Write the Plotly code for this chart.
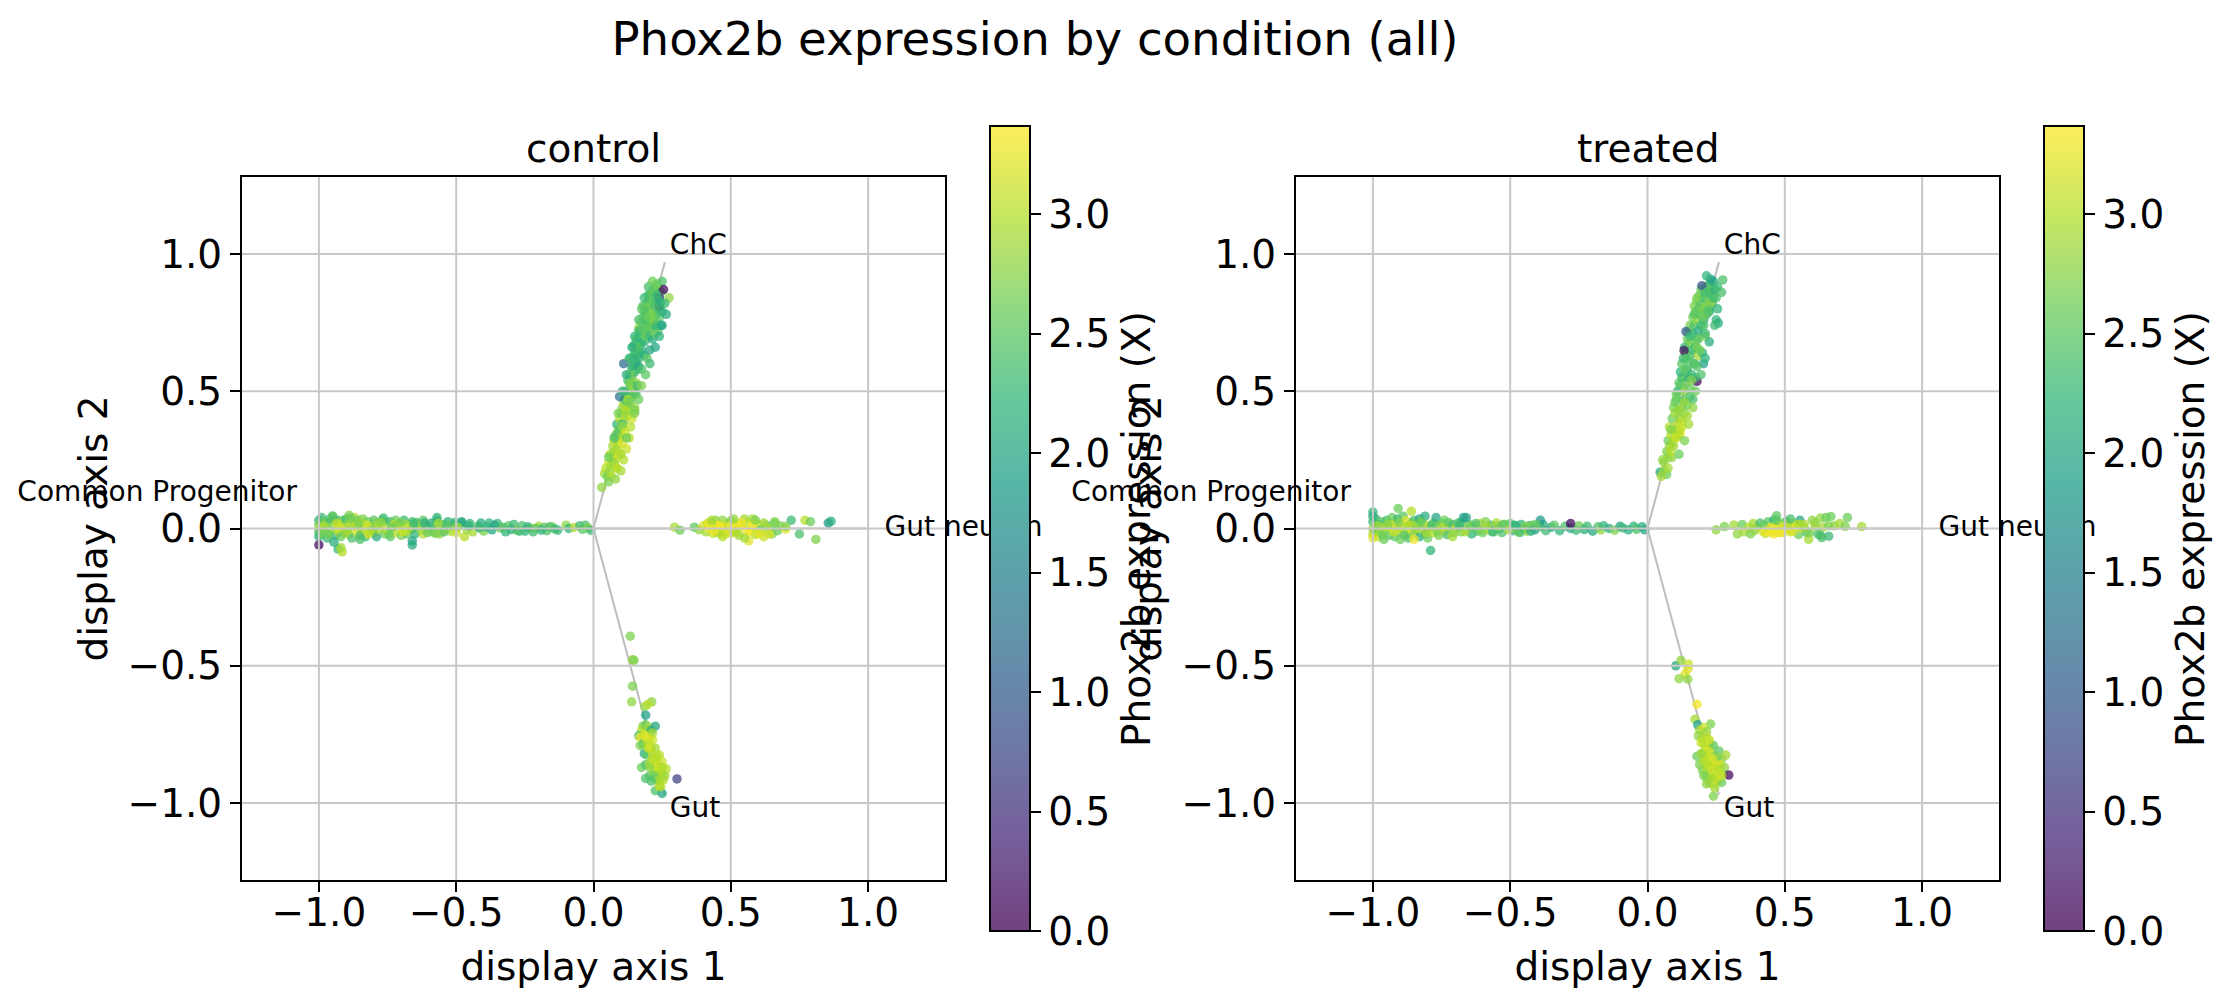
import plotly.graph_objects as go

FIG_W, FIG_H = 2235, 1007

TICKS = [-1.0, -0.5, 0.0, 0.5, 1.0]
CBAR_TICKS = [0.0, 0.5, 1.0, 1.5, 2.0, 2.5, 3.0]
VMAX = 3.37
AXIS_LIMIT = 1.28
PANEL_NAMES = ["control", "treated"]

# trajectory skeleton, drawn from the centre out to each branch tip
BRANCH_X = [0.0, 0.26, None, 0.0, 0.26, None, 0.0, -1.0, None, 0.0, 1.0]
BRANCH_Y = [0.0, 0.97, None, 0.0, -0.97, None, 0.0, 0.0, None, 0.0, 0.0]

LABELS = ["ChC", "Gut", "Gut neuron"]
LABEL_X = [0.278, 0.278, 1.06]
LABEL_Y = [1.025, -1.025, 0.0]
ROOT_LABEL = ["Common Progenitor"]
ROOT_X = [-1.08]
ROOT_Y = [0.127]

# control: Common Progenitor branch
c_prog_x = [
    -1.00, -1.00, -1.00, -1.00, -1.00, -0.99, -0.99, -0.98, -0.98, -0.97,
    -0.97, -0.96, -0.96, -0.95, -0.95, -0.94, -0.94, -0.93, -0.93, -0.92,
    -0.92, -0.91, -0.91, -0.90, -0.90, -0.89, -0.89, -0.88, -0.88, -0.87,
    -0.87, -0.86, -0.86, -0.85, -0.85, -0.84, -0.84, -0.83, -0.83, -0.82,
    -0.82, -0.81, -0.80, -0.80, -0.79, -0.79, -0.78, -0.77, -0.77, -0.76,
    -0.76, -0.75, -0.74, -0.74, -0.73, -0.72, -0.72, -0.71, -0.70, -0.70,
    -0.69, -0.68, -0.68, -0.67, -0.66, -0.66, -0.65, -0.64, -0.63, -0.62,
    -0.62, -0.61, -0.60, -0.59, -0.58, -0.57, -0.57, -0.56, -0.55, -0.54,
    -0.53, -0.52, -0.51, -0.50, -0.49, -0.48, -0.46, -0.45, -0.44, -0.42,
    -0.41, -0.40, -0.38, -0.37, -0.35, -0.34, -0.32, -0.31, -0.29, -0.28,
    -0.26, -0.25, -0.23, -0.22, -0.20, -0.18, -0.17, -0.15, -0.13, -0.10,
    -0.09, -0.07, -0.05, -0.04, -0.03, -0.02, -0.01, -1.00, -0.93, -0.915,
    -0.92, -0.945, -0.66, -0.66, -0.85, -0.89, -0.95, -0.48, -0.57, -0.47,
    -0.985, -0.965, -0.945, -0.925, -0.905, -0.885, -0.865, -0.845, -0.825, -0.805,
    -0.785, -0.765, -0.745, -0.725, -0.705, -0.685, -0.665, -0.645, -0.625, -0.605,
    -0.585, -0.565, -0.545, -0.525, -0.505, -0.975, -0.935, -0.895, -0.855, -0.815,
    -0.775, -0.735, -0.695, -0.655, -0.615, -0.575, -0.535, -0.495, -0.455, -0.415,
    -0.39, -0.36, -0.33, -0.30, -0.27, -0.24, -0.21, -0.19, -0.16, -0.14,
]
c_prog_y = [
    0.030, 0.015, 0.000, -0.015, -0.030, 0.040, -0.020, 0.025, 0.005, -0.035,
    0.020, 0.035, -0.010, 0.045, 0.010, -0.025, 0.025, 0.030, -0.010, -0.030,
    0.015, 0.030, -0.015, 0.005, 0.035, 0.020, -0.020, 0.020, -0.035, 0.010,
    0.040, -0.015, 0.030, 0.000, -0.025, 0.035, 0.015, -0.030, -0.005, 0.025,
    -0.020, 0.005, 0.030, -0.015, 0.020, -0.030, -0.005, 0.030, 0.010, -0.020,
    0.025, -0.010, 0.025, -0.030, 0.005, 0.030, -0.015, 0.015, -0.025, 0.005,
    0.030, 0.015, -0.020, -0.005, 0.025, 0.000, -0.020, 0.015, -0.005, 0.030,
    -0.020, 0.010, -0.010, 0.020, -0.015, 0.030, 0.005, -0.020, 0.015, -0.005,
    0.025, -0.010, 0.015, -0.015, 0.010, 0.020, -0.005, 0.018, -0.012, 0.008,
    0.020, -0.010, 0.020, -0.005, 0.018, 0.002, -0.012, 0.010, 0.015, -0.006,
    0.010, -0.010, 0.002, -0.012, 0.008, 0.005, -0.008, 0.006, -0.006, 0.012,
    0.000, 0.004, 0.010, -0.003, 0.012, 0.002, -0.006, -0.060, -0.075, -0.085,
    -0.070, -0.050, -0.060, -0.045, -0.040, 0.048, 0.045, 0.025, 0.040, -0.030,
    0.008, -0.022, 0.032, 0.002, -0.018, 0.038, 0.010, 0.022, 0.012, -0.005,
    0.012, 0.038, -0.020, 0.015, 0.022, -0.010, 0.010, 0.022, 0.012, -0.015,
    0.008, 0.018, -0.012, 0.006, 0.022, -0.012, 0.018, -0.008, 0.015, -0.012,
    0.022, 0.004, -0.012, 0.018, 0.020, -0.018, 0.012, 0.005, 0.010, 0.002,
    0.006, 0.012, 0.005, -0.004, -0.010, 0.006, 0.000, -0.006, 0.006, -0.002,
]
c_prog_v = [
    2.2, 2.6, 2.9, 2.4, 2.1, 2.3, 2.7, 2.5, 3.0, 2.3,
    2.8, 2.3, 3.0, 2.5, 2.7, 2.2, 2.9, 2.4, 3.1, 2.6,
    3.2, 2.7, 2.5, 3.0, 2.3, 2.8, 2.9, 3.1, 2.4, 2.8,
    3.0, 3.2, 2.6, 3.1, 2.4, 2.7, 3.0, 2.3, 2.9, 2.6,
    3.2, 2.8, 2.5, 3.0, 2.7, 2.1, 2.9, 2.4, 3.2, 2.6,
    2.8, 3.1, 2.3, 2.5, 2.9, 2.6, 3.0, 2.4, 2.7, 3.2,
    2.3, 2.9, 2.5, 3.1, 2.4, 2.8, 2.2, 3.2, 2.7, 2.5,
    3.0, 2.3, 2.9, 2.1, 2.6, 2.3, 3.0, 2.8, 2.4, 3.1,
    2.2, 2.9, 2.5, 3.1, 2.6, 2.0, 2.8, 2.3, 2.9, 2.4,
    2.1, 2.7, 2.2, 2.0, 2.3, 2.6, 2.2, 2.5, 2.3, 2.7,
    2.4, 2.2, 2.8, 2.3, 2.9, 2.5, 2.4, 2.7, 2.3, 2.8,
    2.2, 3.0, 2.3, 2.5, 2.4, 2.7, 2.3, 0.1, 2.2, 3.0,
    2.9, 2.1, 2.1, 2.0, 2.4, 2.7, 2.5, 2.0, 2.2, 3.0,
    2.9, 2.6, 2.4, 3.1, 2.8, 2.6, 3.0, 2.8, 3.2, 2.7,
    2.9, 2.3, 2.6, 3.0, 2.7, 2.9, 3.1, 2.4, 2.8, 2.6,
    2.3, 2.9, 2.5, 2.8, 2.2, 2.6, 3.1, 2.9, 2.7, 3.0,
    2.8, 2.6, 3.1, 2.3, 2.1, 2.7, 2.4, 2.9, 2.1, 2.3,
    2.2, 2.0, 2.4, 2.2, 2.3, 2.1, 2.5, 2.2, 2.4, 2.3,
]

# control: ChC branch
c_chc_x = [
    0.03, 0.04, 0.05, 0.045, 0.06, 0.055, 0.065, 0.07, 0.06, 0.075,
    0.08, 0.07, 0.085, 0.075, 0.09, 0.08, 0.095, 0.09, 0.085, 0.10,
    0.105, 0.095, 0.11, 0.10, 0.115, 0.09, 0.105, 0.12, 0.11, 0.125,
    0.105, 0.13, 0.115, 0.125, 0.14, 0.12, 0.135, 0.145, 0.115, 0.13,
    0.15, 0.125, 0.14, 0.155, 0.115, 0.135, 0.15, 0.13, 0.145, 0.16,
    0.125, 0.14, 0.155, 0.135, 0.15, 0.165, 0.145, 0.16, 0.175, 0.14,
    0.155, 0.17, 0.185, 0.15, 0.165, 0.18, 0.16, 0.175, 0.19, 0.205,
    0.165, 0.18, 0.195, 0.21, 0.17, 0.185, 0.20, 0.215, 0.225, 0.175,
    0.19, 0.205, 0.22, 0.185, 0.20, 0.215, 0.23, 0.19, 0.205, 0.22,
    0.195, 0.21, 0.225, 0.24, 0.20, 0.215, 0.235, 0.19, 0.225, 0.245,
    0.21, 0.235, 0.20, 0.25, 0.225, 0.215, 0.24, 0.275, 0.255, 0.11,
    0.095, 0.23, 0.24,
    0.145, 0.155, 0.165, 0.175, 0.15, 0.16, 0.17, 0.185, 0.195, 0.205,
    0.165, 0.18, 0.19, 0.205, 0.215, 0.225, 0.235, 0.245, 0.19, 0.20,
    0.21, 0.22, 0.23, 0.24, 0.25, 0.18, 0.195, 0.21, 0.225, 0.24,
    0.205, 0.215, 0.23, 0.245, 0.135, 0.145, 0.155, 0.125, 0.135, 0.15,
    0.16, 0.115, 0.125, 0.14, 0.15, 0.105, 0.115, 0.13, 0.095, 0.105,
    0.12, 0.085, 0.095, 0.11, 0.075, 0.085, 0.10, 0.065, 0.08, 0.055,
    0.13, 0.14, 0.15, 0.165, 0.175, 0.185, 0.20, 0.215, 0.26, 0.265,
    0.25, 0.24, 0.225, 0.205, 0.19, 0.175, 0.165, 0.15, 0.135, 0.12,
    0.10, 0.085, 0.055, 0.075, 0.09, 0.105, 0.12,
]
c_chc_y = [
    0.15, 0.20, 0.19, 0.22, 0.21, 0.24, 0.23, 0.26, 0.27, 0.28,
    0.25, 0.30, 0.29, 0.32, 0.31, 0.34, 0.33, 0.36, 0.38, 0.35,
    0.37, 0.40, 0.39, 0.42, 0.41, 0.35, 0.44, 0.43, 0.46, 0.45,
    0.38, 0.47, 0.43, 0.49, 0.48, 0.44, 0.50, 0.49, 0.47, 0.53,
    0.50, 0.49, 0.55, 0.53, 0.50, 0.52, 0.57, 0.56, 0.60, 0.58,
    0.54, 0.58, 0.61, 0.62, 0.64, 0.62, 0.66, 0.67, 0.65, 0.59,
    0.69, 0.70, 0.68, 0.63, 0.73, 0.71, 0.66, 0.75, 0.72, 0.74,
    0.69, 0.77, 0.76, 0.73, 0.72, 0.79, 0.78, 0.77, 0.75, 0.68,
    0.75, 0.80, 0.79, 0.71, 0.73, 0.82, 0.78, 0.80, 0.76, 0.84,
    0.82, 0.78, 0.74, 0.80, 0.85, 0.81, 0.83, 0.77, 0.87, 0.86,
    0.85, 0.88, 0.83, 0.90, 0.86, 0.76, 0.84, 0.84, 0.87, 0.60,
    0.48, 0.89, 0.81,
    0.62, 0.60, 0.59, 0.58, 0.67, 0.66, 0.64, 0.63, 0.62, 0.65,
    0.72, 0.73, 0.70, 0.70, 0.69, 0.71, 0.72, 0.74, 0.76, 0.77,
    0.75, 0.76, 0.74, 0.77, 0.79, 0.81, 0.82, 0.83, 0.81, 0.83,
    0.85, 0.87, 0.85, 0.82, 0.53, 0.51, 0.49, 0.47, 0.46, 0.44,
    0.52, 0.43, 0.41, 0.40, 0.42, 0.37, 0.35, 0.33, 0.33, 0.31,
    0.29, 0.28, 0.27, 0.25, 0.24, 0.22, 0.21, 0.19, 0.18, 0.17,
    0.62, 0.66, 0.70, 0.76, 0.80, 0.84, 0.88, 0.90, 0.82, 0.78,
    0.74, 0.70, 0.66, 0.60, 0.56, 0.52, 0.47, 0.43, 0.37, 0.33,
    0.27, 0.22, 0.26, 0.33, 0.42, 0.50, 0.56,
]
c_chc_v = [
    2.8, 2.9, 2.6, 3.0, 2.8, 3.1, 2.9, 3.0, 3.1, 2.8,
    3.2, 2.9, 3.0, 3.1, 2.9, 2.7, 3.0, 3.1, 2.2, 3.2,
    2.9, 3.0, 2.8, 2.5, 3.1, 2.3, 2.8, 3.0, 2.9, 2.6,
    2.4, 3.0, 2.7, 2.9, 2.5, 2.8, 2.9, 2.6, 2.3, 2.7,
    2.8, 2.4, 2.6, 2.8, 2.2, 2.5, 2.3, 2.6, 2.7, 2.2,
    2.4, 2.6, 2.1, 2.3, 2.5, 2.3, 2.6, 2.4, 2.2, 2.1,
    2.7, 2.5, 2.2, 2.3, 2.8, 2.4, 2.2, 2.6, 2.5, 2.3,
    2.4, 2.6, 2.8, 2.2, 2.1, 2.4, 2.6, 2.5, 2.3, 2.2,
    2.5, 2.4, 2.8, 2.3, 2.6, 2.5, 2.2, 2.4, 2.9, 2.3,
    2.5, 2.7, 2.2, 2.4, 2.3, 2.6, 2.1, 2.4, 2.5, 2.4,
    2.2, 2.6, 2.5, 2.4, 2.3, 2.7, 0.4, 2.8, 0.1, 1.2,
    1.3, 2.6, 0.3,
    2.1, 2.3, 2.0, 2.4, 2.2, 2.5, 2.3, 2.1, 2.5, 2.0,
    2.4, 2.5, 2.6, 2.3, 2.1, 2.6, 2.5, 2.0, 2.4, 2.6,
    2.5, 2.7, 2.3, 2.5, 2.2, 2.4, 2.6, 2.5, 2.4, 2.1,
    2.5, 2.6, 2.3, 2.2, 2.7, 2.8, 2.4, 2.9, 2.6, 2.8,
    2.3, 3.0, 2.8, 3.1, 2.7, 2.8, 3.1, 3.0, 2.9, 3.2,
    3.1, 2.9, 3.2, 3.0, 2.8, 3.1, 2.9, 3.0, 2.8, 2.7,
    2.3, 2.1, 2.2, 2.4, 2.5, 2.3, 2.4, 2.6, 2.3, 2.1,
    2.0, 2.2, 2.0, 2.3, 2.5, 2.7, 2.6, 2.7, 3.0, 2.6,
    2.9, 3.0, 2.6, 2.4, 2.7, 2.3, 2.1,
]

# control: Gut branch
c_gut_x = [
    0.134, 0.142, 0.148, 0.142, 0.139, 0.187, 0.212, 0.198, 0.19, 0.18,
    0.175, 0.19, 0.20, 0.21, 0.165, 0.17, 0.185, 0.225, 0.205, 0.18,
    0.19, 0.20, 0.215, 0.185, 0.21, 0.225, 0.24, 0.195, 0.215, 0.23,
    0.25, 0.175, 0.19, 0.205, 0.225, 0.245, 0.265, 0.205, 0.22, 0.235,
    0.25, 0.19, 0.225, 0.24, 0.255, 0.225, 0.24, 0.25, 0.304,
    0.20, 0.215, 0.23, 0.24, 0.25, 0.205, 0.22, 0.235, 0.215, 0.23,
    0.19, 0.245, 0.26, 0.21, 0.17,
]
c_gut_y = [
    -0.392, -0.478, -0.480, -0.574, -0.631, -0.648, -0.631, -0.640, -0.680, -0.72,
    -0.735, -0.715, -0.725, -0.735, -0.755, -0.76, -0.75, -0.72, -0.76, -0.785,
    -0.79, -0.78, -0.745, -0.82, -0.80, -0.80, -0.825, -0.825, -0.82, -0.84,
    -0.85, -0.87, -0.86, -0.855, -0.85, -0.87, -0.875, -0.90, -0.88, -0.88,
    -0.895, -0.91, -0.91, -0.92, -0.915, -0.955, -0.94, -0.965, -0.912,
    -0.80, -0.84, -0.86, -0.89, -0.87, -0.87, -0.90, -0.92, -0.77, -0.83,
    -0.76, -0.94, -0.90, -0.92, -0.79,
]
c_gut_v = [
    2.7, 2.8, 2.7, 2.7, 2.8, 2.8, 2.8, 3.0, 1.9, 2.7,
    3.0, 2.6, 2.9, 2.1, 2.3, 3.3, 3.1, 2.0, 3.2, 2.2,
    3.0, 3.0, 2.9, 2.1, 3.1, 2.9, 3.0, 2.5, 3.0, 2.9,
    3.1, 2.6, 2.4, 2.9, 3.0, 2.8, 3.0, 2.5, 2.9, 3.1,
    2.9, 2.4, 2.5, 2.9, 3.0, 2.4, 3.0, 2.0, 0.7,
    3.1, 3.0, 3.1, 3.0, 3.0, 2.8, 2.6, 2.9, 3.1, 3.0,
    3.2, 3.0, 2.9, 2.4, 2.7,
]

# control: Gut neuron branch
c_neu_x = [
    0.295, 0.315, 0.367, 0.385, 0.40, 0.41, 0.415, 0.42, 0.43, 0.435,
    0.44, 0.445, 0.45, 0.46, 0.465, 0.47, 0.475, 0.48, 0.49, 0.50,
    0.50, 0.51, 0.52, 0.525, 0.53, 0.54, 0.55, 0.56, 0.565, 0.57,
    0.58, 0.585, 0.59, 0.60, 0.61, 0.62, 0.63, 0.64, 0.65, 0.66,
    0.67, 0.68, 0.70, 0.72, 0.75, 0.77, 0.79, 0.81, 0.855, 0.865,
    0.45, 0.52, 0.61, 0.70,
    0.42, 0.44, 0.46, 0.48, 0.50, 0.52, 0.54, 0.56, 0.58, 0.60,
    0.47, 0.51, 0.55, 0.59, 0.43, 0.62, 0.64, 0.66,
]
c_neu_y = [
    0.005, -0.006, 0.005, -0.005, 0.010, -0.012, 0.018, 0.000, 0.022, -0.018,
    0.010, 0.030, -0.005, 0.015, -0.020, 0.030, 0.005, -0.012, 0.018, -0.018,
    0.028, 0.003, -0.012, 0.020, -0.025, 0.008, 0.035, 0.020, -0.045, -0.010,
    0.035, 0.005, -0.022, 0.015, -0.005, -0.030, 0.012, 0.000, -0.020, 0.018,
    -0.008, 0.010, -0.002, 0.030, -0.020, 0.030, 0.025, -0.040, 0.020, 0.026,
    -0.015, 0.012, -0.015, 0.008,
    0.020, -0.010, 0.010, -0.020, 0.010, -0.015, 0.020, -0.010, 0.015, -0.020,
    -0.030, 0.035, -0.035, 0.030, 0.030, 0.020, -0.020, 0.025,
]
c_neu_v = [
    2.9, 2.6, 2.5, 2.8, 3.2, 2.9, 3.0, 3.3, 2.7, 3.1,
    3.3, 2.8, 2.9, 3.3, 2.9, 2.8, 3.3, 3.0, 3.0, 3.1,
    2.7, 3.3, 2.9, 3.1, 2.9, 3.2, 2.9, 3.0, 3.2, 3.3,
    2.9, 3.3, 3.0, 3.1, 2.4, 3.1, 2.5, 2.9, 2.8, 2.6,
    2.6, 2.7, 3.2, 2.3, 2.4, 3.0, 2.6, 2.7, 1.8, 2.1,
    2.9, 3.3, 3.2, 2.7,
    3.3, 3.3, 3.3, 3.2, 3.3, 3.0, 3.3, 3.3, 3.3, 3.2,
    3.0, 2.8, 2.9, 2.7, 2.9, 2.9, 3.1, 2.7,
]

# treated: Common Progenitor branch
t_prog_x = [
    -1.00, -1.00, -1.00, -1.00, -1.00, -1.00, -0.99, -0.99, -0.98, -0.98,
    -0.97, -0.97, -0.96, -0.96, -0.95, -0.95, -0.94, -0.94, -0.93, -0.93,
    -0.92, -0.92, -0.91, -0.91, -0.90, -0.90, -0.89, -0.89, -0.88, -0.88,
    -0.87, -0.87, -0.86, -0.86, -0.85, -0.85, -0.84, -0.84, -0.83, -0.83,
    -0.82, -0.82, -0.81, -0.81, -0.80, -0.80, -0.79, -0.78, -0.78, -0.77,
    -0.76, -0.76, -0.75, -0.74, -0.74, -0.73, -0.72, -0.71, -0.71, -0.70,
    -0.69, -0.68, -0.68, -0.67, -0.66, -0.65, -0.64, -0.63, -0.62, -0.61,
    -0.60, -0.59, -0.58, -0.57, -0.56, -0.55, -0.54, -0.53, -0.52, -0.50,
    -0.49, -0.48, -0.47, -0.46, -0.45, -0.44, -0.43, -0.42, -0.41, -0.39,
    -0.38, -0.37, -0.35, -0.34, -0.32, -0.30, -0.28, -0.26, -0.25, -0.23,
    -0.22, -0.20, -0.18, -0.17, -0.16, -0.14, -0.12, -0.10, -0.09, -0.07,
    -0.05, -0.04, -0.02, -0.01, -0.908, -0.86, -0.79, -0.39, -0.66, -0.85,
    -0.985, -0.965, -0.945, -0.925, -0.905, -0.885, -0.865, -0.845, -0.825, -0.805,
    -0.785, -0.765, -0.745, -0.725, -0.705, -0.685, -0.665, -0.645, -0.625, -0.605,
    -0.585, -0.565, -0.545, -0.525, -0.505, -0.485, -0.465, -0.445, -0.425, -0.405,
]
t_prog_y = [
    0.060, 0.045, 0.025, 0.000, -0.020, -0.034, 0.035, -0.010, 0.015, -0.030,
    0.025, -0.015, 0.005, -0.040, 0.030, -0.005, 0.020, -0.025, 0.040, 0.005,
    -0.030, 0.018, 0.035, -0.012, 0.000, -0.040, 0.045, 0.012, -0.022, 0.028,
    0.008, -0.035, 0.020, -0.010, 0.030, -0.020, 0.002, 0.015, -0.030, 0.035,
    -0.005, 0.020, -0.020, 0.045, 0.010, -0.035, 0.005, 0.020, -0.015, 0.040,
    -0.025, 0.008, 0.018, -0.010, 0.030, -0.022, 0.005, 0.015, -0.030, 0.000,
    0.020, -0.012, 0.022, 0.040, -0.005, 0.015, -0.020, 0.010, -0.010, 0.018,
    -0.015, 0.025, -0.005, 0.012, -0.012, 0.020, 0.000, -0.015, 0.015, 0.018,
    -0.008, 0.010, -0.012, 0.015, 0.000, -0.010, 0.010, 0.012, -0.005, 0.006,
    0.014, -0.008, 0.005, 0.012, -0.008, 0.008, 0.000, -0.006, 0.010, -0.004,
    0.008, -0.010, 0.006, -0.005, 0.010, 0.000, -0.006, 0.008, 0.002, -0.005,
    0.008, -0.003, 0.006, -0.005, 0.073, 0.063, -0.080, 0.030, 0.040, -0.040,
    0.010, -0.025, 0.015, -0.012, 0.022, -0.025, 0.012, -0.002, 0.025, -0.015,
    0.012, -0.012, 0.005, 0.022, -0.015, 0.010, -0.012, 0.008, 0.018, -0.005,
    0.010, -0.012, 0.008, 0.015, -0.005, 0.012, -0.015, 0.008, -0.010, 0.015,
]
t_prog_v = [
    2.2, 2.1, 2.3, 2.8, 3.0, 3.2, 2.2, 2.6, 2.0, 3.1,
    2.5, 2.8, 2.9, 2.6, 2.4, 3.0, 2.7, 2.5, 2.6, 2.9,
    2.5, 3.1, 2.3, 2.8, 3.0, 2.6, 2.5, 3.1, 2.9, 3.2,
    2.8, 2.4, 2.9, 3.2, 2.4, 2.7, 3.1, 2.8, 2.1, 2.0,
    2.9, 2.6, 2.4, 2.1, 3.0, 2.6, 2.8, 2.5, 3.0, 2.0,
    2.7, 2.9, 2.5, 3.1, 2.6, 2.4, 2.8, 2.2, 2.9, 3.0,
    2.5, 2.7, 2.3, 1.9, 2.9, 2.6, 2.2, 2.8, 2.4, 3.0,
    2.6, 2.7, 2.9, 2.3, 2.5, 2.9, 2.1, 2.4, 2.8, 2.5,
    2.1, 2.3, 2.7, 2.2, 2.0, 2.8, 2.2, 2.6, 2.0, 2.4,
    2.1, 2.3, 2.0, 2.5, 2.2, 2.4, 2.0, 2.3, 2.6, 2.1,
    2.3, 2.0, 2.4, 2.8, 2.2, 2.1, 2.7, 2.0, 2.3, 2.1,
    2.2, 2.4, 2.1, 2.0, 2.6, 3.0, 2.2, 1.8, 1.9, 3.3,
    2.9, 2.6, 2.8, 3.1, 2.7, 2.5, 3.0, 2.8, 2.6, 2.9,
    2.4, 2.7, 3.0, 2.5, 2.8, 2.3, 2.9, 2.6, 2.4, 2.7,
    2.9, 2.3, 2.8, 2.5, 2.9, 2.2, 2.4, 2.7, 2.1, 2.5,
]

# treated: isolated low-expression cell on the progenitor arm
t_prog_low_x = [-0.28]
t_prog_low_y = [0.018]
t_prog_low_v = [0.1]

# treated: ChC branch
t_chc_x = [
    0.046, 0.07, 0.05, 0.06, 0.055, 0.075, 0.088, 0.07, 0.08, 0.075,
    0.09, 0.085, 0.10, 0.095, 0.08, 0.105, 0.09, 0.11, 0.10, 0.12,
    0.095, 0.115, 0.105, 0.125, 0.11, 0.13, 0.105, 0.12, 0.135, 0.115,
    0.13, 0.14, 0.12, 0.135, 0.15, 0.125, 0.145, 0.16, 0.13, 0.15,
    0.14, 0.155, 0.17, 0.135, 0.15, 0.165, 0.145, 0.16, 0.175, 0.15,
    0.165, 0.18, 0.155, 0.17, 0.185, 0.165, 0.18, 0.195, 0.175, 0.19,
    0.205, 0.17, 0.185, 0.20, 0.215, 0.18, 0.195, 0.21, 0.225, 0.19,
    0.205, 0.22, 0.235, 0.195, 0.21, 0.225, 0.24, 0.20, 0.215, 0.23,
    0.245, 0.21, 0.225, 0.24, 0.255, 0.23, 0.25, 0.27, 0.23, 0.274,
    0.258, 0.198, 0.14, 0.133, 0.204, 0.18, 0.12, 0.21, 0.18, 0.185,
    0.06, 0.075, 0.085, 0.095, 0.105, 0.115, 0.125, 0.135, 0.145, 0.155,
    0.115, 0.125, 0.145, 0.165, 0.135, 0.155, 0.175, 0.16, 0.18, 0.20,
    0.17, 0.19, 0.21, 0.185, 0.205, 0.225, 0.20, 0.22, 0.24, 0.215,
    0.125, 0.14, 0.155, 0.17, 0.18, 0.215, 0.25, 0.255, 0.245, 0.225,
    0.21, 0.195, 0.175, 0.165, 0.15, 0.135, 0.115, 0.085, 0.10, 0.11,
]
t_chc_y = [
    0.205, 0.197, 0.19, 0.21, 0.25, 0.26, 0.258, 0.28, 0.30, 0.32,
    0.31, 0.34, 0.33, 0.36, 0.37, 0.35, 0.40, 0.38, 0.42, 0.40,
    0.44, 0.43, 0.47, 0.44, 0.50, 0.47, 0.49, 0.52, 0.50, 0.53,
    0.55, 0.53, 0.57, 0.58, 0.55, 0.60, 0.58, 0.56, 0.62, 0.61,
    0.64, 0.63, 0.60, 0.66, 0.67, 0.65, 0.69, 0.68, 0.66, 0.72,
    0.71, 0.69, 0.74, 0.74, 0.72, 0.77, 0.76, 0.74, 0.79, 0.78,
    0.76, 0.81, 0.80, 0.80, 0.78, 0.83, 0.82, 0.82, 0.80, 0.85,
    0.84, 0.84, 0.82, 0.87, 0.86, 0.86, 0.85, 0.80, 0.88, 0.88,
    0.87, 0.78, 0.89, 0.90, 0.88, 0.82, 0.76, 0.86, 0.908, 0.905,
    0.748, 0.884, 0.717, 0.648, 0.60, 0.536, 0.35, 0.70, 0.66, 0.63,
    0.24, 0.22, 0.28, 0.30, 0.33, 0.36, 0.39, 0.42, 0.45, 0.48,
    0.34, 0.37, 0.41, 0.47, 0.46, 0.51, 0.55, 0.54, 0.59, 0.64,
    0.60, 0.65, 0.71, 0.69, 0.74, 0.79, 0.77, 0.79, 0.84, 0.86,
    0.55, 0.62, 0.70, 0.78, 0.84, 0.92, 0.84, 0.80, 0.74, 0.68,
    0.62, 0.56, 0.50, 0.44, 0.38, 0.32, 0.27, 0.36, 0.46, 0.43,
]
t_chc_v = [
    2.0, 2.6, 2.9, 2.8, 2.8, 2.9, 2.8, 2.7, 2.9, 2.6,
    2.9, 3.0, 2.9, 3.0, 3.0, 3.2, 2.6, 3.0, 2.9, 2.8,
    2.7, 2.9, 2.5, 2.8, 2.1, 2.5, 2.6, 2.4, 2.8, 2.5,
    3.0, 2.6, 2.2, 2.6, 2.0, 2.5, 2.4, 2.3, 2.3, 2.5,
    2.7, 2.4, 2.2, 2.2, 2.5, 2.3, 2.6, 2.7, 2.2, 2.4,
    2.3, 2.5, 2.7, 2.4, 2.1, 2.6, 2.8, 2.3, 2.5, 2.4,
    2.1, 2.7, 2.5, 2.3, 2.2, 2.6, 2.4, 2.7, 2.0, 2.5,
    2.3, 2.6, 2.1, 2.6, 2.4, 2.2, 2.5, 2.7, 2.3, 2.5,
    2.1, 2.6, 2.4, 2.0, 2.3, 2.8, 2.2, 2.4, 1.9, 2.4,
    2.1, 0.9, 1.0, 0.2, 1.9, 0.1, 3.3, 2.8, 2.7, 2.9,
    2.8, 2.9, 3.0, 2.9, 3.1, 2.9, 3.0, 2.8, 2.6, 2.4,
    3.0, 3.1, 2.9, 2.4, 2.8, 2.6, 2.3, 2.7, 2.4, 2.2,
    2.5, 2.6, 2.3, 2.5, 2.4, 2.2, 2.6, 2.5, 2.3, 2.4,
    2.3, 2.4, 2.3, 2.5, 2.7, 2.2, 2.4, 2.2, 2.3, 2.1,
    2.2, 2.4, 2.6, 2.8, 2.9, 2.7, 2.6, 2.7, 2.6, 2.8,
]

# treated: Gut branch
t_gut_x = [
    0.103, 0.122, 0.149, 0.148, 0.137, 0.115, 0.147, 0.18, 0.173, 0.183,
    0.23, 0.19, 0.205, 0.215, 0.185, 0.20, 0.215, 0.225, 0.195, 0.21,
    0.225, 0.24, 0.18, 0.20, 0.215, 0.23, 0.245, 0.26, 0.19, 0.205,
    0.22, 0.24, 0.255, 0.27, 0.285, 0.20, 0.215, 0.235, 0.25, 0.265,
    0.28, 0.215, 0.23, 0.245, 0.26, 0.275, 0.225, 0.24, 0.255, 0.27,
    0.24, 0.296,
    0.205, 0.22, 0.235, 0.22, 0.235, 0.25, 0.21, 0.26, 0.23, 0.205,
    0.215, 0.245, 0.195, 0.27, 0.225,
]
t_gut_y = [
    -0.500, -0.480, -0.494, -0.510, -0.530, -0.547, -0.549, -0.640, -0.695, -0.715,
    -0.712, -0.735, -0.725, -0.740, -0.755, -0.765, -0.760, -0.780, -0.780, -0.800,
    -0.795, -0.790, -0.830, -0.820, -0.820, -0.815, -0.830, -0.810, -0.860, -0.850,
    -0.845, -0.850, -0.835, -0.840, -0.825, -0.880, -0.875, -0.870, -0.865, -0.860,
    -0.870, -0.905, -0.895, -0.900, -0.890, -0.895, -0.925, -0.930, -0.920, -0.925,
    -0.975, -0.898,
    -0.78, -0.81, -0.84, -0.86, -0.88, -0.91, -0.84, -0.875, -0.91, -0.90,
    -0.93, -0.945, -0.82, -0.90, -0.77,
]
t_gut_v = [
    2.0, 2.8, 3.1, 3.2, 3.2, 2.8, 2.8, 3.3, 2.9, 1.9,
    2.7, 2.9, 3.1, 2.8, 2.8, 2.9, 3.0, 2.7, 3.1, 3.0,
    3.2, 2.5, 2.6, 3.0, 3.2, 2.9, 2.8, 2.5, 2.7, 2.9,
    3.1, 3.0, 2.8, 2.7, 2.9, 2.7, 2.9, 3.0, 3.1, 3.2,
    2.8, 2.6, 2.9, 3.0, 3.2, 2.7, 2.8, 3.1, 3.2, 2.6,
    2.7, 0.1,
    3.0, 3.1, 3.2, 3.0, 3.1, 3.0, 3.0, 3.0, 2.9, 2.7,
    2.8, 2.9, 2.8, 3.1, 3.1,
]

# treated: Gut neuron branch
t_neu_x = [
    0.25, 0.28, 0.315, 0.327, 0.345, 0.35, 0.37, 0.375, 0.385, 0.39,
    0.40, 0.41, 0.42, 0.425, 0.43, 0.44, 0.445, 0.45, 0.46, 0.465,
    0.47, 0.475, 0.48, 0.49, 0.50, 0.505, 0.51, 0.52, 0.53, 0.54,
    0.55, 0.555, 0.56, 0.57, 0.58, 0.587, 0.60, 0.61, 0.62, 0.63,
    0.635, 0.64, 0.65, 0.66, 0.668, 0.68, 0.70, 0.728, 0.72, 0.78,
    0.43, 0.45, 0.46, 0.48, 0.49, 0.51, 0.53, 0.55, 0.57, 0.59,
    0.61, 0.63, 0.66, 0.47, 0.52,
]
t_neu_y = [
    -0.005, 0.007, 0.013, -0.020, 0.015, -0.012, 0.005, -0.020, 0.018, -0.008,
    0.005, 0.020, -0.010, 0.012, -0.018, 0.025, 0.000, -0.012, 0.030, -0.005,
    0.046, 0.010, -0.015, 0.018, -0.008, 0.025, 0.003, -0.012, 0.020, 0.008,
    -0.022, 0.030, 0.002, 0.015, -0.015, -0.040, 0.030, 0.010, -0.020, 0.038,
    -0.033, 0.005, 0.040, -0.028, 0.044, 0.010, 0.018, 0.040, 0.008, 0.007,
    -0.012, 0.005, -0.020, 0.012, -0.015, 0.015, -0.010, 0.015, 0.005, -0.015,
    0.020, -0.025, 0.010, 0.030, 0.035,
]
t_neu_v = [
    2.8, 2.7, 2.9, 2.8, 2.6, 2.9, 3.0, 2.7, 2.9, 2.8,
    2.9, 2.4, 3.1, 2.6, 3.0, 2.5, 2.7, 3.3, 2.2, 3.3,
    2.5, 3.3, 3.2, 2.9, 3.3, 2.4, 3.3, 3.1, 2.9, 3.2,
    2.6, 2.0, 3.1, 3.0, 2.4, 2.9, 2.8, 3.0, 2.4, 2.8,
    2.4, 2.9, 2.6, 2.3, 2.6, 2.8, 2.9, 2.6, 2.7, 2.9,
    3.3, 3.3, 3.3, 3.2, 3.3, 3.0, 3.2, 3.0, 2.9, 2.7,
    2.8, 2.4, 2.7, 2.5, 2.4,
]

panel_x = [
    c_prog_x + c_chc_x + c_gut_x + c_neu_x,
    t_prog_x + t_prog_low_x + t_chc_x + t_gut_x + t_neu_x,
]
panel_y = [
    c_prog_y + c_chc_y + c_gut_y + c_neu_y,
    t_prog_y + t_prog_low_y + t_chc_y + t_gut_y + t_neu_y,
]
panel_v = [
    c_prog_v + c_chc_v + c_gut_v + c_neu_v,
    t_prog_v + t_prog_low_v + t_chc_v + t_gut_v + t_neu_v,
]

# viridis stops at 75 % opacity, so overlapping cells blend and the bar looks washed
VIRIDIS = ["#440154", "#482878", "#3e4989", "#31688e", "#26828e",
           "#1f9e89", "#35b779", "#6ece58", "#b5de2b", "#fde725"]
ALPHA = 0.75


def rgba(hex_colour):
    r, g, b = (int(hex_colour[i:i + 2], 16) for i in (1, 3, 5))
    return f"rgba({r},{g},{b},{ALPHA})"


COLORSCALE = [[i / (len(VIRIDIS) - 1), rgba(c)] for i, c in enumerate(VIRIDIS)]

FONT = "DejaVu Sans"
TICK_SIZE = 39
LABEL_SIZE = 39
TITLE_SIZE = 46.7
NODE_SIZE = 28
TEXT_COLOR = "black"
GRID = "#c8c8c8"

# pixel rectangles for the two panels and their colour bars
PANEL_LEFT = [242, 1296]
PANEL_W = 703
PANEL_TOP, PANEL_H = 177, 703
CBAR_LEFT = [990, 2044]
CBAR_W = 40
CBAR_TOP, CBAR_H = 126, 805


def px(x):
    return x / FIG_W


def py(y):
    return 1 - y / FIG_H


fig = go.Figure()
layout = dict(
    width=FIG_W, height=FIG_H,
    margin=dict(l=0, r=0, t=0, b=0, pad=0, autoexpand=False),
    paper_bgcolor="white", plot_bgcolor="white",
    font=dict(family=FONT, color=TEXT_COLOR, size=TICK_SIZE),
    showlegend=False,
    title=dict(text="Phox2b expression by condition (all)", x=1035 / FIG_W, xanchor="center",
               y=py(39), yanchor="middle", font=dict(size=TITLE_SIZE, family=FONT, color=TEXT_COLOR)),
)
annotations = []
shapes = []

# grid lines run through the tick positions across the full axis range
grid_x, grid_y = [], []
for t in TICKS:
    grid_x += [t, t, None, -AXIS_LIMIT, AXIS_LIMIT, None]
    grid_y += [-AXIS_LIMIT, AXIS_LIMIT, None, t, t, None]

for i, name in enumerate(PANEL_NAMES):
    suffix = "" if i == 0 else str(i + 1)
    xname, yname = f"x{suffix}", f"y{suffix}"

    fig.add_trace(go.Scatter(
        x=BRANCH_X, y=BRANCH_Y, xaxis=xname, yaxis=yname, mode="lines",
        line=dict(color="#bdbdbd", width=2), hoverinfo="skip",
    ))
    fig.add_trace(go.Scatter(
        x=panel_x[i], y=panel_y[i], xaxis=xname, yaxis=yname, mode="markers",
        marker=dict(
            size=9.5, color=panel_v[i], cmin=0, cmax=VMAX, colorscale=COLORSCALE,
            line=dict(width=0),
            colorbar=dict(
                x=px(CBAR_LEFT[i]), xanchor="left", xpad=0, thickness=CBAR_W,
                lenmode="pixels", len=CBAR_H, y=py(CBAR_TOP + CBAR_H / 2), yanchor="middle", ypad=0,
                outlinecolor="black", outlinewidth=2,
                tickmode="array", tickvals=CBAR_TICKS, tickformat=".1f",
                ticks="outside", ticklen=10, tickwidth=2, tickcolor="black",
                tickfont=dict(size=TICK_SIZE, family=FONT, color=TEXT_COLOR),
            ),
        ),
    ))
    # the grid sits over the cells but under the node labels
    fig.add_trace(go.Scatter(
        x=grid_x, y=grid_y, xaxis=xname, yaxis=yname, mode="lines",
        line=dict(color=GRID, width=2), hoverinfo="skip",
    ))
    fig.add_trace(go.Scatter(
        x=LABEL_X, y=LABEL_Y, xaxis=xname, yaxis=yname, mode="text", text=LABELS,
        textposition="middle right", cliponaxis=False, hoverinfo="skip",
        textfont=dict(size=NODE_SIZE, family=FONT, color=TEXT_COLOR),
    ))
    fig.add_trace(go.Scatter(
        x=ROOT_X, y=ROOT_Y, xaxis=xname, yaxis=yname, mode="text", text=ROOT_LABEL,
        textposition="middle left", cliponaxis=False, hoverinfo="skip",
        textfont=dict(size=NODE_SIZE, family=FONT, color=TEXT_COLOR),
    ))

    axis = dict(
        range=[-AXIS_LIMIT, AXIS_LIMIT], tickmode="array", tickvals=TICKS, tickformat=".1f",
        showgrid=False, zeroline=False,
        showline=True, mirror=True, linecolor="black", linewidth=2,
        ticks="outside", ticklen=10, tickwidth=2, tickcolor="black",
        tickfont=dict(size=TICK_SIZE, family=FONT, color=TEXT_COLOR),
    )
    layout[f"xaxis{suffix}"] = dict(
        axis, domain=[px(PANEL_LEFT[i]), px(PANEL_LEFT[i] + PANEL_W)], anchor=yname,
        ticklabelstandoff=-13,
        title=dict(text="display axis 1", standoff=19, font=dict(size=LABEL_SIZE, family=FONT, color=TEXT_COLOR)),
    )
    layout[f"yaxis{suffix}"] = dict(
        axis, domain=[py(PANEL_TOP + PANEL_H), py(PANEL_TOP)], anchor=xname,
        title=dict(text="display axis 2", standoff=8, font=dict(size=LABEL_SIZE, family=FONT, color=TEXT_COLOR)),
    )

    # opaque backing so branch labels do not show through the translucent bar
    shapes.append(dict(type="rect", layer="above", xref="paper", yref="paper",
                       x0=px(CBAR_LEFT[i]), x1=px(CBAR_LEFT[i] + CBAR_W),
                       y0=py(CBAR_TOP + CBAR_H), y1=py(CBAR_TOP),
                       fillcolor="white", line=dict(width=0)))

    annotations.append(dict(
        text=name, xref="paper", yref="paper", x=px(PANEL_LEFT[i] + PANEL_W / 2), y=py(148),
        xanchor="center", yanchor="middle", showarrow=False,
        font=dict(size=LABEL_SIZE, family=FONT, color=TEXT_COLOR),
    ))
    annotations.append(dict(
        text="Phox2b expression (X)", xref="paper", yref="paper",
        x=px(CBAR_LEFT[i] + 146), y=py(529), textangle=-90,
        xanchor="center", yanchor="middle", showarrow=False,
        font=dict(size=LABEL_SIZE, family=FONT, color=TEXT_COLOR),
    ))

layout["annotations"] = annotations
layout["shapes"] = shapes
fig.update_layout(**layout)
fig.write_html("out.html")
